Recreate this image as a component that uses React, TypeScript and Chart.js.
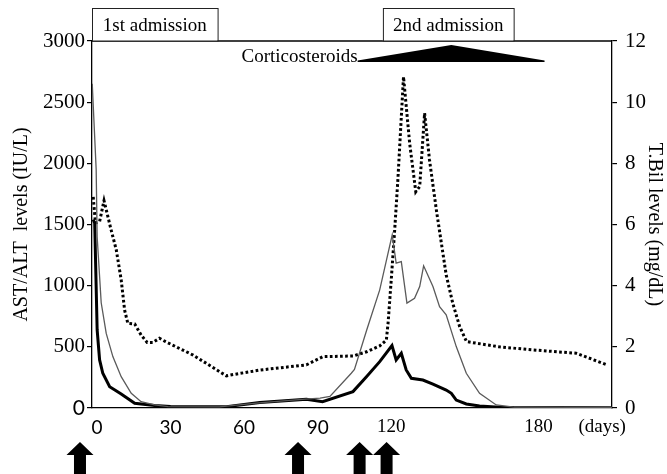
import { useEffect, useRef } from 'react';
import { Chart, registerables } from 'chart.js';

Chart.register(...registerables);

// ---- data (days from first admission) ----
const astDays = [-1.9, -0.3, 0.1, 1.75, 3.8, 6.5, 9.9, 14, 18, 23.5, 29, 50, 66, 85, 91, 95, 103.7, 105, 110, 115.3, 119.3, 120.4, 122, 124.1, 126.4, 129.5, 131.6, 133.2, 137, 139.7, 142.4, 146.5, 150.6, 156, 162.8, 170, 210];
const astLevels = [2650, 1950, 1400, 860, 610, 420, 256, 120, 52, 25, 12, 10, 42, 72, 80, 95, 284, 315, 638, 966, 1320, 1416, 1184, 1197, 857, 897, 993, 1162, 993, 829, 761, 502, 284, 120, 25, 8, 4];

const altDays = [-1.5, -0.9, 0.1, 1.1, 2.4, 5.2, 9.9, 15.4, 23.5, 30, 52.8, 66.4, 85.4, 92, 104.4, 109.9, 115.3, 120.3, 122, 124.1, 126.1, 128.2, 132.9, 137, 142.4, 144.5, 146.5, 150.6, 156, 164, 210];
const altLevels = [1540, 1511, 638, 393, 284, 174, 115, 38, 20, 12, 11, 44, 71, 52, 134, 256, 379, 510, 393, 447, 311, 243, 229, 196, 147, 120, 65, 33, 16, 6, 2];

const tbilDays = [-1.5, -0.6, 1.1, 2.9, 5.8, 7.9, 9.9, 11.3, 12.6, 15.4, 18, 20.5, 22.8, 25.5, 28, 39.2, 52.8, 56, 66.4, 85.4, 92.2, 104.4, 110, 115.3, 118, 118.7, 120, 121.4, 122.7, 125, 127.5, 130, 131.6, 133.6, 135.6, 138.4, 142.4, 145.1, 147.9, 150.7, 164, 177.7, 195.4, 208];
const tbilLevels = [6.9, 6.05, 6.1, 6.78, 5.82, 5.17, 4.19, 3.2, 2.77, 2.75, 2.39, 2.14, 2.14, 2.28, 2.17, 1.73, 1.05, 1.1, 1.24, 1.41, 1.68, 1.7, 1.84, 2.03, 2.22, 2.77, 4.19, 5.82, 7.46, 10.83, 8.66, 7.07, 7.24, 9.64, 8.11, 6.47, 4.35, 3.42, 2.66, 2.17, 2.0, 1.9, 1.79, 1.41];

const xTickValues = [0, 30, 60, 90, 120, 180, 206];
const xTickLabels = ['0', '30', '60', '90', '120', '180', '(days)'];

const admissionLabels = ['1st admission', '2nd admission'];
const admissionStart = [-2, 116.6];
const admissionEnd = [49.2, 169.9];

const steroidLabel = 'Corticosteroids';
const steroidRange = [106.3, 144.5, 182.5]; // start, peak, end (days)

const arrowDays = [-6.9, 82, 107.1, 118.1];

const SERIF = '"Liberation Serif", "Times New Roman", serif';
const SANS = 'Lato, "Liberation Sans", sans-serif';

function pairs(xs: number[], ys: number[]) {
  return xs.map((x, i) => ({ x, y: ys[i] }));
}

export default function App() {
  const ref = useRef<HTMLCanvasElement>(null);

  useEffect(() => {
    const canvas = ref.current;
    if (!canvas) return;

    const annotations = {
      id: 'annotations',
      afterDraw(chart: any) {
        const { ctx, chartArea, scales } = chart;
        const xs = scales.x;
        ctx.save();
        // top border
        ctx.strokeStyle = '#000';
        ctx.lineWidth = 1.3;
        ctx.beginPath();
        ctx.moveTo(chartArea.left, chartArea.top);
        ctx.lineTo(chartArea.right, chartArea.top);
        ctx.stroke();

        // admission boxes
        ctx.lineWidth = 1;
        ctx.strokeStyle = '#222';
        ctx.font = `19px ${SERIF}`;
        ctx.textAlign = 'center';
        ctx.textBaseline = 'middle';
        admissionLabels.forEach((label, i) => {
          const x0 = xs.getPixelForValue(admissionStart[i]);
          const x1 = xs.getPixelForValue(admissionEnd[i]);
          const yTop = 8.5;
          ctx.fillStyle = '#fff';
          ctx.fillRect(x0, yTop, x1 - x0, chartArea.top - yTop);
          ctx.strokeRect(x0 + 0.5, yTop, x1 - x0, chartArea.top - yTop);
          ctx.fillStyle = '#000';
          ctx.fillText(label, (x0 + x1) / 2, 26);
        });

        // corticosteroid triangle
        const s0 = xs.getPixelForValue(steroidRange[0]);
        const sp = xs.getPixelForValue(steroidRange[1]);
        const s1 = xs.getPixelForValue(steroidRange[2]);
        ctx.fillStyle = '#000';
        ctx.beginPath();
        ctx.moveTo(s0, 60.5);
        ctx.lineTo(sp, 45);
        ctx.lineTo(s1, 60.5);
        ctx.lineTo(s1, 62);
        ctx.lineTo(s0, 62);
        ctx.closePath();
        ctx.fill();
        ctx.font = `19px ${SERIF}`;
        ctx.textAlign = 'right';
        ctx.textBaseline = 'middle';
        ctx.fillText(steroidLabel, s0, 57.5);

        // arrows
        arrowDays.forEach((d) => {
          const cx = xs.getPixelForValue(d);
          ctx.beginPath();
          ctx.moveTo(cx, 442);
          ctx.lineTo(cx + 13.5, 455);
          ctx.lineTo(cx + 6, 455);
          ctx.lineTo(cx + 6, 474);
          ctx.lineTo(cx - 6, 474);
          ctx.lineTo(cx - 6, 455);
          ctx.lineTo(cx - 13.5, 455);
          ctx.closePath();
          ctx.fill();
        });
        ctx.restore();
      },
    };

    const chart = new Chart(canvas, {
      type: 'line',
      data: {
        datasets: [
          {
            label: 'AST',
            data: pairs(astDays, astLevels),
            borderColor: '#5a5a5a',
            borderWidth: 1.3,
            pointRadius: 0,
            tension: 0,
            yAxisID: 'y',
          },
          {
            label: 'ALT',
            data: pairs(altDays, altLevels),
            borderColor: '#000',
            borderWidth: 3,
            pointRadius: 0,
            tension: 0,
            yAxisID: 'y',
          },
          {
            label: 'T.Bil',
            data: pairs(tbilDays, tbilLevels),
            borderColor: '#000',
            borderWidth: 3,
            borderDash: [2.7, 2.4],
            borderCapStyle: 'butt',
            pointRadius: 0,
            tension: 0,
            yAxisID: 'y2',
          },
        ],
      },
      options: {
        responsive: false,
        animation: false,
        layout: { padding: { top: 41, left: 0, right: 0, bottom: 0 } },
        plugins: {
          legend: { display: false },
          tooltip: { enabled: false },
        },
        scales: {
          x: {
            type: 'linear',
            min: -2,
            max: 210,
            afterFit: (s: any) => {
              s.height = 66;
            },
            afterBuildTicks: (s: any) => {
              s.ticks = xTickValues.map((v) => ({ value: v }));
            },
            grid: { display: false, drawTicks: false },
            border: { display: true, color: '#000', width: 1.3 },
            ticks: {
              autoSkip: false,
              maxRotation: 0,
              padding: 8,
              color: '#000',
              callback: (_v: any, i: number) => xTickLabels[i],
              font: (c: any) => ({ family: c.index < 4 ? SANS : SERIF, size: 19 }),
            },
          },
          y: {
            type: 'linear',
            position: 'left',
            min: 0,
            max: 3000,
            afterFit: (s: any) => {
              s.width = 92;
            },
            grid: { drawOnChartArea: false, drawTicks: true, tickLength: 5, color: '#000', lineWidth: 1.2 },
            border: { display: true, color: '#000', width: 1.3 },
            ticks: {
              stepSize: 500,
              padding: 2,
              color: '#000',
              callback: (v: any) => String(v),
              font: (c: any) => ({ family: c.tick && c.tick.value === 0 ? SANS : SERIF, size: 21 }),
            },
            title: {
              display: true,
              text: 'AST/ALT  levels (IU/L)',
              color: '#000',
              font: { family: SERIF, size: 20 },
              padding: { top: 10, bottom: 0 },
            },
          },
          y2: {
            type: 'linear',
            position: 'right',
            min: 0,
            max: 12,
            afterFit: (s: any) => {
              s.width = 55;
            },
            grid: { drawOnChartArea: false, drawTicks: true, tickLength: 5, color: '#000', lineWidth: 1.2 },
            border: { display: true, color: '#000', width: 1.3 },
            ticks: {
              stepSize: 2,
              padding: 8,
              color: '#000',
              callback: (v: any) => String(v),
              font: { family: SERIF, size: 21 },
            },
            title: {
              display: true,
              text: 'T.Bil levels (mg/dL)',
              color: '#000',
              font: { family: SERIF, size: 20 },
              padding: { top: 1, bottom: 0 },
            },
          },
        },
      },
      plugins: [annotations],
    } as any);

    return () => chart.destroy();
  }, []);

  return (
    <div style={{ position: 'absolute', left: 0, top: 0, width: 667, height: 474, background: '#fff' }}>
      <canvas ref={ref} width={667} height={474} style={{ display: 'block', width: 667, height: 474 }} />
    </div>
  );
}
